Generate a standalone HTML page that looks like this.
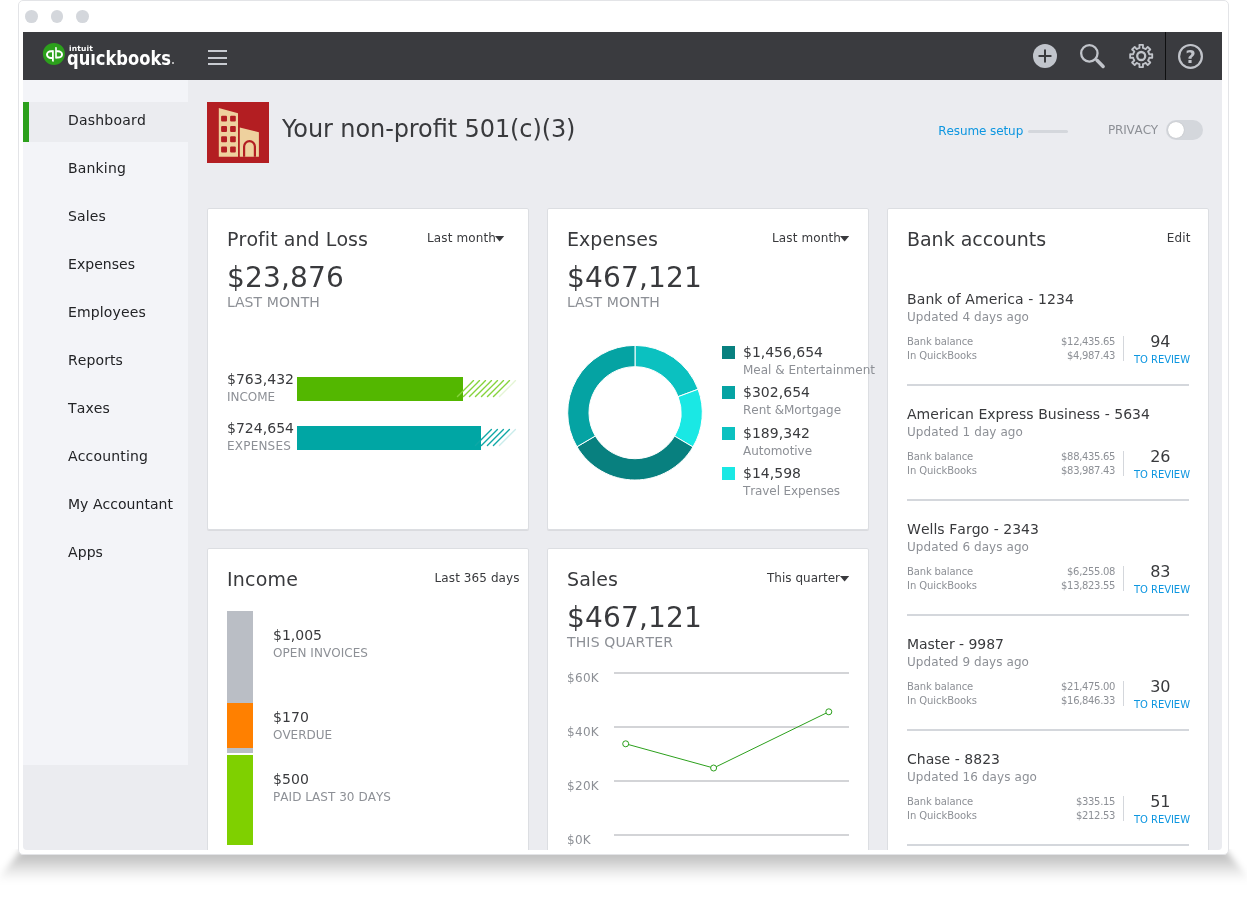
<!DOCTYPE html>
<html><head><meta charset="utf-8"><title>QuickBooks Dashboard</title>
<style>
html,body{margin:0;padding:0;width:1247px;height:900px;overflow:hidden;background:#fff;font-family:'DejaVu Sans', 'Liberation Sans', sans-serif;}
.root{position:absolute;left:0;top:0;width:1247px;height:900px;will-change:transform}
.abs{position:absolute}
.t{position:absolute;white-space:nowrap;line-height:1}
.win{position:absolute;left:18px;top:0;width:1209px;height:853px;border:1px solid #e3e4e7;border-radius:5px;background:#fff}
.shwrap{position:absolute;left:0;top:849px;width:1247px;height:51px;overflow:hidden}
.shblur{position:absolute;left:-10px;top:-1px;width:1267px;height:34px;filter:blur(3px)}
.shape{position:absolute;left:0;top:0;width:1267px;height:34px;clip-path:polygon(33px 0,1234px 0,1262px 100%,5px 100%);background:linear-gradient(to bottom,rgba(0,0,0,.25) 0%,rgba(0,0,0,.245) 19.4%,rgba(0,0,0,.21) 33.3%,rgba(0,0,0,.155) 47.2%,rgba(0,0,0,.105) 61.1%,rgba(0,0,0,.06) 75%,rgba(0,0,0,.022) 88.9%,rgba(0,0,0,0) 100%)}
.dot{position:absolute;width:12.8px;height:12.8px;border-radius:50%;background:#d4d7dc}
.app{position:absolute;left:23px;top:32px;width:1199px;height:818px;overflow:hidden;border-radius:0 0 4px 4px}
.hdr{position:absolute;left:0;top:0;width:1199px;height:48px;background:#3a3b3f}
.side{position:absolute;left:0;top:48px;width:165px;height:685px;background:#f3f4f8}
.main{position:absolute;left:0;top:0;width:1199px;height:818px;background:#ebecf0}
.active{position:absolute;left:23px;top:102px;width:165px;height:40px;background:#ebecf0}
.activebar{position:absolute;left:23px;top:102px;width:6px;height:40px;background:#2ca01c}
.clip{position:absolute;left:0;top:0;width:1222px;height:850px;overflow:hidden}
.card{position:absolute;width:320px;background:#fff;border:1px solid #dcdee2;border-radius:2px;box-shadow:0 1px 0 rgba(0,0,0,.07)}
</style></head>
<body>
<div class="root">
<div class="shwrap"><div class="shblur"><div class="shape"></div></div></div>
<div class="win"></div>
<div class="dot" style="left:25.0px;top:10px"></div>
<div class="dot" style="left:50.6px;top:10px"></div>
<div class="dot" style="left:76.2px;top:10px"></div>
<div class="app">
<div class="main"></div>
<div class="side"></div>
<div class="hdr"></div>
</div>
<div class="active"></div><div class="activebar"></div>
<div class="t" style="left:68px;top:113.16px;font-size:14px;color:#222326;letter-spacing:0.200px;font-kerning:none;font-variant-ligatures:none;">Dashboard</div>
<div class="t" style="left:68px;top:161.16px;font-size:14px;color:#222326;letter-spacing:0.170px;font-kerning:none;font-variant-ligatures:none;">Banking</div>
<div class="t" style="left:68px;top:209.16px;font-size:14px;color:#222326;letter-spacing:0.147px;font-kerning:none;font-variant-ligatures:none;">Sales</div>
<div class="t" style="left:68px;top:257.16px;font-size:14px;color:#222326;letter-spacing:0.037px;font-kerning:none;font-variant-ligatures:none;">Expenses</div>
<div class="t" style="left:68px;top:305.16px;font-size:14px;color:#222326;letter-spacing:0.152px;font-kerning:none;font-variant-ligatures:none;">Employees</div>
<div class="t" style="left:68px;top:353.16px;font-size:14px;color:#222326;letter-spacing:0.095px;font-kerning:none;font-variant-ligatures:none;">Reports</div>
<div class="t" style="left:68px;top:401.16px;font-size:14px;color:#222326;letter-spacing:0.135px;font-kerning:none;font-variant-ligatures:none;">Taxes</div>
<div class="t" style="left:68px;top:449.16px;font-size:14px;color:#222326;letter-spacing:0.158px;font-kerning:none;font-variant-ligatures:none;">Accounting</div>
<div class="t" style="left:68px;top:497.16px;font-size:14px;color:#222326;letter-spacing:0.036px;font-kerning:none;font-variant-ligatures:none;">My Accountant</div>
<div class="t" style="left:68px;top:545.16px;font-size:14px;color:#222326;letter-spacing:0.089px;font-kerning:none;font-variant-ligatures:none;">Apps</div>
<svg class="abs" style="left:40px;top:40px" width="30" height="30" viewBox="0 0 30 30">
<circle cx="13.9" cy="13.9" r="11" fill="#2ca01c"/>
<path d="M12.6 11.3 H11 A4 3.3 0 0 0 11 17.9 H12.6" fill="none" stroke="#fff" stroke-width="2"/>
<path d="M16.2 11.3 H18 A4 3.1 0 0 1 18 17.5 H16.2" fill="none" stroke="#fff" stroke-width="2"/>
<path d="M12 10.3 H13.8 V21.6 L12.9 21.8 L12 21 Z" fill="#fff"/>
<path d="M15.2 7.3 L16 7 L16.8 7.6 V18.5 H15.2 Z" fill="#fff"/>
</svg>
<div class="abs" style="left:172.2px;top:62.2px;width:1.8px;height:1.8px;border-radius:1px;background:#ddd"></div>
<div class="t" style="left:67.3px;top:48.9px;font-size:19px;font-weight:bold;color:#fff;transform:scaleX(0.858);transform-origin:left">quickbooks</div>
<div class="abs" style="left:90.6px;top:49.8px;width:4.6px;height:3.4px;background:#3a3b3f"></div>
<div class="t" style="left:68.6px;top:45.2px;font-size:7.4px;font-weight:bold;color:#fff;letter-spacing:0.15px;transform:scaleX(1.02);transform-origin:left">intuit</div>
<div class="abs" style="left:208px;top:50.3px;width:19px;height:2px;background:#c8cbd1"></div>
<div class="abs" style="left:208px;top:56.7px;width:19px;height:2px;background:#c8cbd1"></div>
<div class="abs" style="left:208px;top:63px;width:19px;height:2px;background:#c8cbd1"></div>
<svg class="abs" style="left:1030px;top:41px" width="30" height="30" viewBox="0 0 30 30">
<circle cx="15" cy="15" r="12" fill="#c1c5cc"/>
<path d="M15 9.3 V20.7 M9.3 15 H20.7" stroke="#393a3d" stroke-width="2" stroke-linecap="round"/>
</svg>
<svg class="abs" style="left:1076px;top:41px" width="30" height="30" viewBox="0 0 30 30">
<circle cx="13.35" cy="12.35" r="8.2" fill="none" stroke="#c1c4ca" stroke-width="2.3"/>
<path d="M21 19.3 L27.1 25.4" stroke="#c1c4ca" stroke-width="3.5" stroke-linecap="round"/>
</svg>
<svg class="abs" style="left:1126px;top:41px" width="30" height="30" viewBox="0 0 30 30">
<path d="M12.21 7.36 L13.52 6.97 L13.36 3.95 L17.04 3.95 L16.88 6.97 L18.19 7.36 L18.49 7.49 L19.69 8.14 L21.71 5.89 L24.31 8.49 L22.06 10.51 L22.71 11.71 L22.84 12.01 L23.23 13.32 L26.25 13.16 L26.25 16.84 L23.23 16.68 L22.84 17.99 L22.71 18.29 L22.06 19.49 L24.31 21.51 L21.71 24.11 L19.69 21.86 L18.49 22.51 L18.19 22.64 L16.88 23.03 L17.04 26.05 L13.36 26.05 L13.52 23.03 L12.21 22.64 L11.91 22.51 L10.71 21.86 L8.69 24.11 L6.09 21.51 L8.34 19.49 L7.69 18.29 L7.56 17.99 L7.17 16.68 L4.15 16.84 L4.15 13.16 L7.17 13.32 L7.56 12.01 L7.69 11.71 L8.34 10.51 L6.09 8.49 L8.69 5.89 L10.71 8.14 L11.91 7.49 Z" fill="none" stroke="#c1c4ca" stroke-width="1.8" stroke-linejoin="round"/>
<circle cx="15.2" cy="15" r="4" fill="none" stroke="#c1c4ca" stroke-width="2.3"/>
</svg>
<div class="abs" style="left:1165px;top:32px;width:1px;height:48px;background:#0e0f10"></div>
<svg class="abs" style="left:1176px;top:41px" width="30" height="30" viewBox="0 0 30 30">
<circle cx="14.5" cy="15.4" r="11.4" fill="none" stroke="#c1c4ca" stroke-width="2.2"/>
</svg>
<div class="t" style="left:1090.70px;width:200px;text-align:center;top:49.20px;font-size:17.5px;color:#c1c4ca;font-kerning:none;font-variant-ligatures:none;font-weight:bold">?</div>
<svg class="abs" style="left:207px;top:102px" width="62" height="61" viewBox="0 0 62 61">
<rect width="62" height="61" fill="#b31e22"/>
<path d="M11.8 5.9 L31 11.2 V54.8 H11.8 Z" fill="#eed19e"/>
<path d="M32.8 25.5 L51.9 30.3 V54.8 H32.8 Z" fill="#eed19e"/>
<g fill="#b31e22">
<rect x="14.1" y="13.8" width="5.9" height="5.8" rx="1"/><rect x="23.1" y="13.8" width="5.7" height="5.8" rx="1"/>
<rect x="14.1" y="24" width="5.9" height="5.9" rx="1"/><rect x="23.1" y="24" width="5.7" height="5.9" rx="1"/>
<rect x="14.1" y="34.3" width="5.9" height="5.9" rx="1"/><rect x="23.1" y="34.3" width="5.7" height="5.9" rx="1"/>
<rect x="14.1" y="44.6" width="5.9" height="5.8" rx="1"/><rect x="23.1" y="44.6" width="5.7" height="5.8" rx="1"/>
</g>
<path d="M37.1 54.8 V44.5 A5.4 5.4 0 0 1 47.9 44.5 V54.8" fill="none" stroke="#b31e22" stroke-width="2.2"/>
</svg>
<div class="t" style="left:282px;top:117.00px;font-size:24px;color:#393a3d;letter-spacing:-0.100px;font-feature-settings:'liga' 1,'kern' 1;">Your non-profit 501(c)(3)</div>
<div class="t" style="left:938.2px;top:124.85px;font-size:12px;color:#0d96e0;letter-spacing:-0.087px;font-kerning:none;font-variant-ligatures:none;">Resume setup</div>
<div class="abs" style="left:1028px;top:129.5px;width:40px;height:3px;border-radius:2px;background:#d4d7dc"></div>
<div class="t" style="left:1108px;top:123.85px;font-size:12px;color:#8d9096;letter-spacing:-0.177px;font-kerning:none;font-variant-ligatures:none;">PRIVACY</div>
<div class="abs" style="left:1166px;top:120px;width:37px;height:20px;border-radius:10px;background:#d4d7dc"></div>
<div class="abs" style="left:1167.7px;top:121.6px;width:16.6px;height:16.6px;border-radius:50%;background:#fff;box-shadow:0 0 1px rgba(0,0,0,.25)"></div>
<div class="clip">
<div class="card" style="left:207px;top:208px;height:320px"></div>
<div class="card" style="left:547px;top:208px;height:320px"></div>
<div class="card" style="left:887px;top:208px;height:698px"></div>
<div class="card" style="left:207px;top:548px;height:398px"></div>
<div class="card" style="left:547px;top:548px;height:398px"></div>
<div class="t" style="left:227px;top:230.23px;font-size:19px;color:#393a3d;letter-spacing:0.057px;font-kerning:none;font-variant-ligatures:none;">Profit and Loss</div>
<div class="t" style="left:427px;top:232.35px;font-size:12px;color:#393a3d;letter-spacing:0.124px;font-kerning:none;font-variant-ligatures:none;">Last month</div>
<svg class="abs" style="left:494.6px;top:235px" width="10" height="8"><path d="M0 0.9 H9.2 L4.6 6.6 Z" fill="#393a3d"/></svg>
<div class="t" style="left:227px;top:264.31px;font-size:28px;color:#393a3d;letter-spacing:0.173px;font-feature-settings:'liga' 1,'kern' 1;">$23,876</div>
<div class="t" style="left:227px;top:295.16px;font-size:14px;color:#8d9096;letter-spacing:0.108px;font-kerning:none;font-variant-ligatures:none;">LAST MONTH</div>
<div class="t" style="left:227px;top:372.16px;font-size:14px;color:#393a3d;letter-spacing:0.025px;font-kerning:none;font-variant-ligatures:none;">$763,432</div>
<div class="t" style="left:227px;top:390.85px;font-size:12px;color:#8d9096;letter-spacing:-0.046px;font-kerning:none;font-variant-ligatures:none;">INCOME</div>
<div class="t" style="left:227px;top:421.16px;font-size:14px;color:#393a3d;letter-spacing:0.025px;font-kerning:none;font-variant-ligatures:none;">$724,654</div>
<div class="t" style="left:227px;top:439.85px;font-size:12px;color:#8d9096;letter-spacing:0.198px;font-kerning:none;font-variant-ligatures:none;">EXPENSES</div>
<div class="abs" style="left:297px;top:377px;width:166px;height:24px;background:#53b700"></div>
<div class="abs" style="left:297px;top:426px;width:184px;height:24px;background:#00a6a4"></div>
<svg class="abs" style="left:0;top:0" width="1247" height="900"><g stroke-width="1.35" stroke-linecap="round"><line x1="457.5" y1="396.6" x2="473.5" y2="380.6" stroke="#86d33c"/><line x1="463.5" y1="396.6" x2="479.5" y2="380.6" stroke="#86d33c"/><line x1="469.5" y1="396.6" x2="485.5" y2="380.6" stroke="#86d33c"/><line x1="475.5" y1="396.6" x2="491.5" y2="380.6" stroke="#86d33c"/><line x1="481.5" y1="396.6" x2="497.5" y2="380.6" stroke="#86d33c"/><line x1="487.5" y1="396.6" x2="503.5" y2="380.6" stroke="#86d33c"/><line x1="493.5" y1="396.6" x2="509.5" y2="380.6" stroke="#86d33c"/><line x1="499.5" y1="396.6" x2="515.5" y2="380.6" stroke="#86d33c" stroke-opacity="0.22"/></g></svg>
<svg class="abs" style="left:0;top:0" width="1247" height="900"><g stroke-width="1.35" stroke-linecap="round"><line x1="475.4" y1="445.5" x2="491.4" y2="429.5" stroke="#0fa8a6"/><line x1="481.4" y1="445.5" x2="497.4" y2="429.5" stroke="#0fa8a6"/><line x1="487.4" y1="445.5" x2="503.4" y2="429.5" stroke="#0fa8a6"/><line x1="493.4" y1="445.5" x2="509.4" y2="429.5" stroke="#0fa8a6"/><line x1="499.4" y1="445.5" x2="515.4" y2="429.5" stroke="#0fa8a6" stroke-opacity="0.22"/></g></svg>
<div class="t" style="left:567px;top:230.23px;font-size:19px;color:#393a3d;letter-spacing:0.059px;font-kerning:none;font-variant-ligatures:none;">Expenses</div>
<div class="t" style="left:772px;top:232.35px;font-size:12px;color:#393a3d;letter-spacing:0.124px;font-kerning:none;font-variant-ligatures:none;">Last month</div>
<svg class="abs" style="left:839.5px;top:235px" width="10" height="8"><path d="M0 0.9 H9.2 L4.6 6.6 Z" fill="#393a3d"/></svg>
<div class="t" style="left:567px;top:264.31px;font-size:28px;color:#393a3d;letter-spacing:0.175px;font-feature-settings:'liga' 1,'kern' 1;">$467,121</div>
<div class="t" style="left:567px;top:295.16px;font-size:14px;color:#8d9096;letter-spacing:0.108px;font-kerning:none;font-variant-ligatures:none;">LAST MONTH</div>
<svg class="abs" style="left:0;top:0" width="1247" height="900"><path d="M635.00 345.40 A67.3 67.3 0 0 1 698.08 389.24 L678.11 396.67 A46 46 0 0 0 635.00 366.70 Z" fill="#0bc1c0" stroke="#fff" stroke-width="1"/><path d="M698.08 389.24 A67.3 67.3 0 0 1 692.93 446.96 L674.59 436.12 A46 46 0 0 0 678.11 396.67 Z" fill="#1ae8e4" stroke="#fff" stroke-width="1"/><path d="M692.93 446.96 A67.3 67.3 0 0 1 576.95 446.76 L595.32 435.98 A46 46 0 0 0 674.59 436.12 Z" fill="#08807f" stroke="#fff" stroke-width="1"/><path d="M576.95 446.76 A67.3 67.3 0 0 1 635.00 345.40 L635.00 366.70 A46 46 0 0 0 595.32 435.98 Z" fill="#05a3a3" stroke="#fff" stroke-width="1"/></svg>
<div class="abs" style="left:722px;top:346px;width:13px;height:13px;background:#08807f"></div>
<div class="t" style="left:743px;top:345.46px;font-size:14px;color:#393a3d;letter-spacing:-0.016px;font-kerning:none;font-variant-ligatures:none;">$1,456,654</div>
<div class="t" style="left:743px;top:364.05px;font-size:12px;color:#8d9096;font-kerning:none;font-variant-ligatures:none;">Meal &amp; Entertainment</div>
<div class="abs" style="left:722px;top:386px;width:13px;height:13px;background:#05a3a3"></div>
<div class="t" style="left:743px;top:385.46px;font-size:14px;color:#393a3d;letter-spacing:0.025px;font-kerning:none;font-variant-ligatures:none;">$302,654</div>
<div class="t" style="left:743px;top:404.05px;font-size:12px;color:#8d9096;letter-spacing:-0.036px;font-kerning:none;font-variant-ligatures:none;">Rent &amp;Mortgage</div>
<div class="abs" style="left:722px;top:427px;width:13px;height:13px;background:#0bc1c0"></div>
<div class="t" style="left:743px;top:426.46px;font-size:14px;color:#393a3d;letter-spacing:0.025px;font-kerning:none;font-variant-ligatures:none;">$189,342</div>
<div class="t" style="left:743px;top:445.05px;font-size:12px;color:#8d9096;letter-spacing:-0.042px;font-kerning:none;font-variant-ligatures:none;">Automotive</div>
<div class="abs" style="left:722px;top:467px;width:13px;height:13px;background:#1ae8e4"></div>
<div class="t" style="left:743px;top:466.46px;font-size:14px;color:#393a3d;letter-spacing:0.015px;font-kerning:none;font-variant-ligatures:none;">$14,598</div>
<div class="t" style="left:743px;top:485.05px;font-size:12px;color:#8d9096;letter-spacing:-0.095px;font-kerning:none;font-variant-ligatures:none;">Travel Expenses</div>
<div class="t" style="left:907px;top:230.23px;font-size:19px;color:#393a3d;letter-spacing:-0.027px;font-kerning:none;font-variant-ligatures:none;">Bank accounts</div>
<div class="t" style="left:1190.69px;top:232.35px;font-size:12px;color:#393a3d;transform:translateX(-100%);letter-spacing:0.190px;font-kerning:none;font-variant-ligatures:none;">Edit</div>
<div class="t" style="left:907px;top:292.26px;font-size:14px;color:#393a3d;letter-spacing:0.096px;font-kerning:none;font-variant-ligatures:none;">Bank of America - 1234</div>
<div class="t" style="left:907px;top:310.65px;font-size:12px;color:#8d9096;letter-spacing:0.067px;font-kerning:none;font-variant-ligatures:none;">Updated 4 days ago</div>
<div class="t" style="left:907px;top:336.84px;font-size:10px;color:#8d9096;letter-spacing:-0.139px;font-kerning:none;font-variant-ligatures:none;">Bank balance</div>
<div class="t" style="left:907px;top:350.74px;font-size:10px;color:#8d9096;letter-spacing:-0.065px;font-kerning:none;font-variant-ligatures:none;">In QuickBooks</div>
<div class="t" style="left:1115.07px;top:336.84px;font-size:10px;color:#8d9096;transform:translateX(-100%);letter-spacing:-0.326px;font-kerning:none;font-variant-ligatures:none;">$12,435.65</div>
<div class="t" style="left:1115.08px;top:350.74px;font-size:10px;color:#8d9096;transform:translateX(-100%);letter-spacing:-0.322px;font-kerning:none;font-variant-ligatures:none;">$4,987.43</div>
<div class="abs" style="left:1123px;top:336px;width:1px;height:25px;background:#d4d7dc"></div>
<div class="t" style="left:1060.31px;width:200px;text-align:center;top:333.66px;font-size:16px;color:#393a3d;letter-spacing:-0.180px;font-kerning:none;font-variant-ligatures:none;">94</div>
<div class="t" style="left:1061.98px;width:200px;text-align:center;top:354.54px;font-size:10px;color:#0d96e0;letter-spacing:-0.047px;font-kerning:none;font-variant-ligatures:none;">TO REVIEW</div>
<div class="abs" style="left:907px;top:384px;width:282px;height:2px;background:#d4d7dc"></div>
<div class="t" style="left:907px;top:407.26px;font-size:14px;color:#393a3d;letter-spacing:0.037px;font-kerning:none;font-variant-ligatures:none;">American Express Business - 5634</div>
<div class="t" style="left:907px;top:425.65px;font-size:12px;color:#8d9096;letter-spacing:0.086px;font-kerning:none;font-variant-ligatures:none;">Updated 1 day ago</div>
<div class="t" style="left:907px;top:451.84px;font-size:10px;color:#8d9096;letter-spacing:-0.139px;font-kerning:none;font-variant-ligatures:none;">Bank balance</div>
<div class="t" style="left:907px;top:465.74px;font-size:10px;color:#8d9096;letter-spacing:-0.065px;font-kerning:none;font-variant-ligatures:none;">In QuickBooks</div>
<div class="t" style="left:1115.07px;top:451.84px;font-size:10px;color:#8d9096;transform:translateX(-100%);letter-spacing:-0.326px;font-kerning:none;font-variant-ligatures:none;">$88,435.65</div>
<div class="t" style="left:1115.07px;top:465.74px;font-size:10px;color:#8d9096;transform:translateX(-100%);letter-spacing:-0.326px;font-kerning:none;font-variant-ligatures:none;">$83,987.43</div>
<div class="abs" style="left:1123px;top:451px;width:1px;height:25px;background:#d4d7dc"></div>
<div class="t" style="left:1060.31px;width:200px;text-align:center;top:448.66px;font-size:16px;color:#393a3d;letter-spacing:-0.180px;font-kerning:none;font-variant-ligatures:none;">26</div>
<div class="t" style="left:1061.98px;width:200px;text-align:center;top:469.54px;font-size:10px;color:#0d96e0;letter-spacing:-0.047px;font-kerning:none;font-variant-ligatures:none;">TO REVIEW</div>
<div class="abs" style="left:907px;top:499px;width:282px;height:2px;background:#d4d7dc"></div>
<div class="t" style="left:907px;top:522.26px;font-size:14px;color:#393a3d;letter-spacing:0.033px;font-kerning:none;font-variant-ligatures:none;">Wells Fargo - 2343</div>
<div class="t" style="left:907px;top:540.65px;font-size:12px;color:#8d9096;letter-spacing:0.067px;font-kerning:none;font-variant-ligatures:none;">Updated 6 days ago</div>
<div class="t" style="left:907px;top:566.84px;font-size:10px;color:#8d9096;letter-spacing:-0.139px;font-kerning:none;font-variant-ligatures:none;">Bank balance</div>
<div class="t" style="left:907px;top:580.74px;font-size:10px;color:#8d9096;letter-spacing:-0.065px;font-kerning:none;font-variant-ligatures:none;">In QuickBooks</div>
<div class="t" style="left:1115.08px;top:566.84px;font-size:10px;color:#8d9096;transform:translateX(-100%);letter-spacing:-0.322px;font-kerning:none;font-variant-ligatures:none;">$6,255.08</div>
<div class="t" style="left:1115.07px;top:580.74px;font-size:10px;color:#8d9096;transform:translateX(-100%);letter-spacing:-0.326px;font-kerning:none;font-variant-ligatures:none;">$13,823.55</div>
<div class="abs" style="left:1123px;top:566px;width:1px;height:25px;background:#d4d7dc"></div>
<div class="t" style="left:1060.31px;width:200px;text-align:center;top:563.66px;font-size:16px;color:#393a3d;letter-spacing:-0.180px;font-kerning:none;font-variant-ligatures:none;">83</div>
<div class="t" style="left:1061.98px;width:200px;text-align:center;top:584.54px;font-size:10px;color:#0d96e0;letter-spacing:-0.047px;font-kerning:none;font-variant-ligatures:none;">TO REVIEW</div>
<div class="abs" style="left:907px;top:614px;width:282px;height:2px;background:#d4d7dc"></div>
<div class="t" style="left:907px;top:637.26px;font-size:14px;color:#393a3d;letter-spacing:-0.030px;font-kerning:none;font-variant-ligatures:none;">Master - 9987</div>
<div class="t" style="left:907px;top:655.65px;font-size:12px;color:#8d9096;letter-spacing:0.067px;font-kerning:none;font-variant-ligatures:none;">Updated 9 days ago</div>
<div class="t" style="left:907px;top:681.84px;font-size:10px;color:#8d9096;letter-spacing:-0.139px;font-kerning:none;font-variant-ligatures:none;">Bank balance</div>
<div class="t" style="left:907px;top:695.74px;font-size:10px;color:#8d9096;letter-spacing:-0.065px;font-kerning:none;font-variant-ligatures:none;">In QuickBooks</div>
<div class="t" style="left:1115.07px;top:681.84px;font-size:10px;color:#8d9096;transform:translateX(-100%);letter-spacing:-0.326px;font-kerning:none;font-variant-ligatures:none;">$21,475.00</div>
<div class="t" style="left:1115.07px;top:695.74px;font-size:10px;color:#8d9096;transform:translateX(-100%);letter-spacing:-0.326px;font-kerning:none;font-variant-ligatures:none;">$16,846.33</div>
<div class="abs" style="left:1123px;top:681px;width:1px;height:25px;background:#d4d7dc"></div>
<div class="t" style="left:1060.31px;width:200px;text-align:center;top:678.66px;font-size:16px;color:#393a3d;letter-spacing:-0.180px;font-kerning:none;font-variant-ligatures:none;">30</div>
<div class="t" style="left:1061.98px;width:200px;text-align:center;top:699.54px;font-size:10px;color:#0d96e0;letter-spacing:-0.047px;font-kerning:none;font-variant-ligatures:none;">TO REVIEW</div>
<div class="abs" style="left:907px;top:729px;width:282px;height:2px;background:#d4d7dc"></div>
<div class="t" style="left:907px;top:752.26px;font-size:14px;color:#393a3d;letter-spacing:0.024px;font-kerning:none;font-variant-ligatures:none;">Chase - 8823</div>
<div class="t" style="left:907px;top:770.65px;font-size:12px;color:#8d9096;letter-spacing:0.083px;font-kerning:none;font-variant-ligatures:none;">Updated 16 days ago</div>
<div class="t" style="left:907px;top:796.84px;font-size:10px;color:#8d9096;letter-spacing:-0.139px;font-kerning:none;font-variant-ligatures:none;">Bank balance</div>
<div class="t" style="left:907px;top:810.74px;font-size:10px;color:#8d9096;letter-spacing:-0.065px;font-kerning:none;font-variant-ligatures:none;">In QuickBooks</div>
<div class="t" style="left:1115.06px;top:796.84px;font-size:10px;color:#8d9096;transform:translateX(-100%);letter-spacing:-0.336px;font-kerning:none;font-variant-ligatures:none;">$335.15</div>
<div class="t" style="left:1115.06px;top:810.74px;font-size:10px;color:#8d9096;transform:translateX(-100%);letter-spacing:-0.336px;font-kerning:none;font-variant-ligatures:none;">$212.53</div>
<div class="abs" style="left:1123px;top:796px;width:1px;height:25px;background:#d4d7dc"></div>
<div class="t" style="left:1060.31px;width:200px;text-align:center;top:793.66px;font-size:16px;color:#393a3d;letter-spacing:-0.180px;font-kerning:none;font-variant-ligatures:none;">51</div>
<div class="t" style="left:1061.98px;width:200px;text-align:center;top:814.54px;font-size:10px;color:#0d96e0;letter-spacing:-0.047px;font-kerning:none;font-variant-ligatures:none;">TO REVIEW</div>
<div class="abs" style="left:907px;top:844px;width:282px;height:2px;background:#d4d7dc"></div>
<div class="t" style="left:227px;top:570.23px;font-size:19px;color:#393a3d;letter-spacing:0.181px;font-kerning:none;font-variant-ligatures:none;">Income</div>
<div class="t" style="left:519.59px;top:572.35px;font-size:12px;color:#393a3d;transform:translateX(-100%);letter-spacing:0.088px;font-kerning:none;font-variant-ligatures:none;">Last 365 days</div>
<div class="abs" style="left:227px;top:611px;width:26px;height:92px;background:#babec5"></div>
<div class="abs" style="left:227px;top:703px;width:26px;height:45px;background:#ff8000"></div>
<div class="abs" style="left:227px;top:748px;width:26px;height:5px;background:#babec5"></div>
<div class="abs" style="left:227px;top:755px;width:26px;height:90px;background:#7fd000"></div>
<div class="t" style="left:273px;top:628.16px;font-size:14px;color:#393a3d;font-kerning:none;font-variant-ligatures:none;">$1,005</div>
<div class="t" style="left:273px;top:647.05px;font-size:12px;color:#8d9096;letter-spacing:0.051px;font-kerning:none;font-variant-ligatures:none;">OPEN INVOICES</div>
<div class="t" style="left:273px;top:710.16px;font-size:14px;color:#393a3d;letter-spacing:0.093px;font-kerning:none;font-variant-ligatures:none;">$170</div>
<div class="t" style="left:273px;top:729.05px;font-size:12px;color:#8d9096;letter-spacing:-0.026px;font-kerning:none;font-variant-ligatures:none;">OVERDUE</div>
<div class="t" style="left:273px;top:771.86px;font-size:14px;color:#393a3d;letter-spacing:0.093px;font-kerning:none;font-variant-ligatures:none;">$500</div>
<div class="t" style="left:273px;top:791.15px;font-size:12px;color:#8d9096;letter-spacing:0.048px;font-kerning:none;font-variant-ligatures:none;">PAID LAST 30 DAYS</div>
<div class="t" style="left:567px;top:570.23px;font-size:19px;color:#393a3d;letter-spacing:0.086px;font-kerning:none;font-variant-ligatures:none;">Sales</div>
<div class="t" style="left:767px;top:572.35px;font-size:12px;color:#393a3d;letter-spacing:0.011px;font-kerning:none;font-variant-ligatures:none;">This quarter</div>
<svg class="abs" style="left:839.7px;top:575px" width="10" height="8"><path d="M0 0.9 H9.2 L4.6 6.6 Z" fill="#393a3d"/></svg>
<div class="t" style="left:567px;top:604.31px;font-size:28px;color:#393a3d;letter-spacing:0.175px;font-feature-settings:'liga' 1,'kern' 1;">$467,121</div>
<div class="t" style="left:567px;top:635.16px;font-size:14px;color:#8d9096;letter-spacing:0.147px;font-kerning:none;font-variant-ligatures:none;">THIS QUARTER</div>
<div class="abs" style="left:614px;top:672px;width:235px;height:2px;background:#d3d4d7"></div>
<div class="t" style="left:567px;top:671.85px;font-size:12px;color:#8d9096;letter-spacing:0.307px;font-kerning:none;font-variant-ligatures:none;">$60K</div>
<div class="abs" style="left:614px;top:726px;width:235px;height:2px;background:#d3d4d7"></div>
<div class="t" style="left:567px;top:725.85px;font-size:12px;color:#8d9096;letter-spacing:0.307px;font-kerning:none;font-variant-ligatures:none;">$40K</div>
<div class="abs" style="left:614px;top:780px;width:235px;height:2px;background:#d3d4d7"></div>
<div class="t" style="left:567px;top:779.85px;font-size:12px;color:#8d9096;letter-spacing:0.307px;font-kerning:none;font-variant-ligatures:none;">$20K</div>
<div class="abs" style="left:614px;top:834px;width:235px;height:2px;background:#d3d4d7"></div>
<div class="t" style="left:567px;top:833.85px;font-size:12px;color:#8d9096;letter-spacing:0.287px;font-kerning:none;font-variant-ligatures:none;">$0K</div>
<svg class="abs" style="left:0;top:0" width="1247" height="900">
<polyline points="625.7,743.8 713.6,768 828.8,711.8" fill="none" stroke="#2ca01c" stroke-width="1"/>
<circle cx="625.7" cy="743.8" r="3" fill="#fff" stroke="#2ca01c" stroke-width="1"/>
<circle cx="713.6" cy="768" r="3" fill="#fff" stroke="#2ca01c" stroke-width="1"/>
<circle cx="828.8" cy="711.8" r="3" fill="#fff" stroke="#2ca01c" stroke-width="1"/>
</svg>
</div>
</div>
</body></html>
